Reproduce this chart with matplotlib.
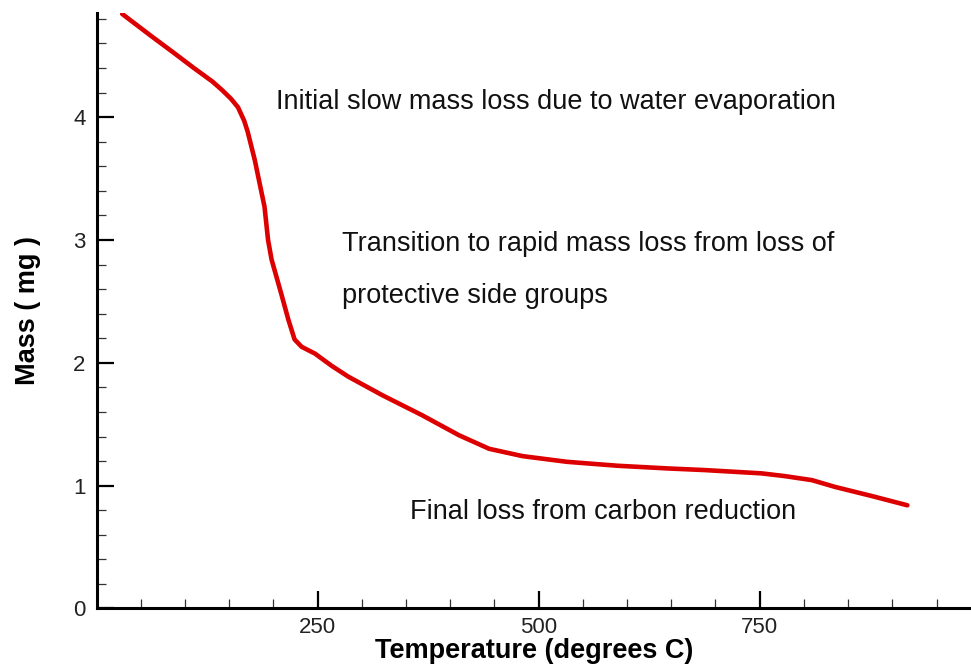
import matplotlib
matplotlib.use("Agg")
import matplotlib.pyplot as plt
from matplotlib.ticker import MultipleLocator

plt.rcParams['font.family'] = ['Liberation Sans', 'DejaVu Sans']

temperature = [29, 60, 88, 110, 131, 142, 152, 160, 167, 171, 179, 190, 194,
               198, 209, 217, 224, 232, 247, 266, 285, 323, 368, 410, 444,
               482, 532, 589, 646, 687, 752, 778, 809, 835, 877, 917]
mass = [4.84, 4.67, 4.52, 4.40, 4.29, 4.22, 4.15, 4.08, 3.97, 3.88, 3.65,
        3.27, 3.00, 2.84, 2.56, 2.35, 2.19, 2.13, 2.075, 1.975, 1.886, 1.737,
        1.574, 1.41, 1.30, 1.24, 1.194, 1.162, 1.14, 1.127, 1.10, 1.078,
        1.045, 0.99, 0.915, 0.84]

annotations = [
    (203, 4.12, "Initial slow mass loss due to water evaporation"),
    (278, 2.97, "Transition to rapid mass loss from loss of"),
    (278, 2.54, "protective side groups"),
    (355, 0.785, "Final loss from carbon reduction"),
]

fig = plt.figure(figsize=(9.71, 6.68), dpi=100)
ax = fig.add_axes([0.0994, 0.0891, 0.9006, 0.8919])
ax.plot(temperature, mass, color='#dd0000', lw=3.3, solid_capstyle='round',
        solid_joinstyle='round')

ax.set_xlim(0, 989)
ax.set_ylim(0, 4.85)
ax.xaxis.set_major_locator(MultipleLocator(250))
ax.xaxis.set_minor_locator(MultipleLocator(50))
ax.yaxis.set_major_locator(MultipleLocator(1))
ax.yaxis.set_minor_locator(MultipleLocator(0.2))
ax.set_xticks([250, 500, 750])
ax.set_xticklabels(['250', '500', '750'])

for s in ['top', 'right']:
    ax.spines[s].set_visible(False)
for s in ['left', 'bottom']:
    ax.spines[s].set_linewidth(2.2)

ax.tick_params(which='major', direction='in', length=12.5, width=1.6,
               labelsize=16, color='black')
ax.tick_params(which='minor', direction='in', length=6.8, width=0.9,
               color='#333333')
ax.tick_params(axis='x', which='major', pad=6)
ax.tick_params(axis='y', which='major', pad=8)
for lbl in ax.get_xticklabels() + ax.get_yticklabels():
    lbl.set_color('#222222')

ax.set_xlabel('Temperature (degrees C)', fontsize=19.5, fontweight='bold',
              labelpad=0)
ax.set_ylabel('Mass ( mg )', fontsize=19.5, fontweight='bold', labelpad=23)

for x, y, t in annotations:
    ax.text(x, y, t, fontsize=19.5, ha='left', va='center', color='#111111')

fig.savefig('out.png', dpi=100)
